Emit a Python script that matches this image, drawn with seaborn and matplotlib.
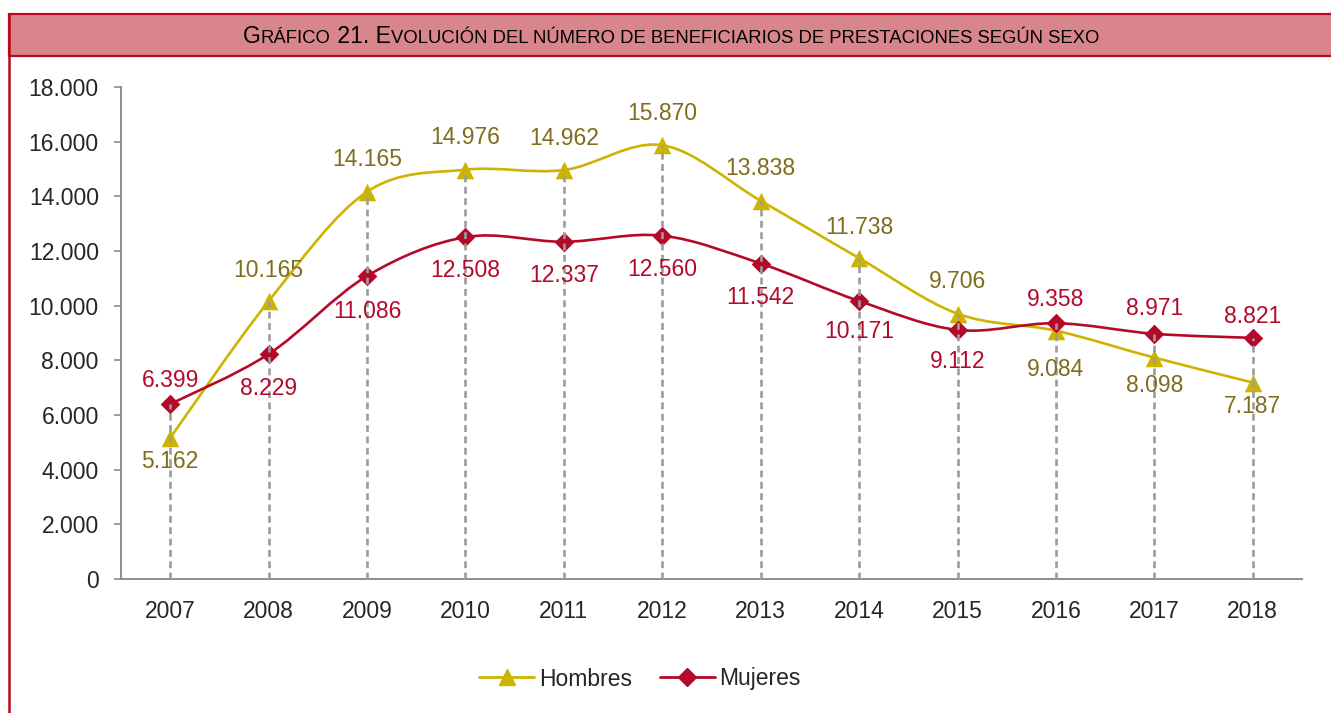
import matplotlib
matplotlib.use("Agg")
import matplotlib.pyplot as plt
from matplotlib.path import Path
from matplotlib.patches import PathPatch, Rectangle
from matplotlib.lines import Line2D
import numpy as np
import pandas as pd
import seaborn as sns

# datos
anios = ["2007", "2008", "2009", "2010", "2011", "2012",
         "2013", "2014", "2015", "2016", "2017", "2018"]
hombres = [5162, 10165, 14165, 14976, 14962, 15870, 13838, 11738, 9706, 9084, 8098, 7187]
mujeres = [6399, 8229, 11086, 12508, 12337, 12560, 11542, 10171, 9112, 9358, 8971, 8821]
y_ticks = [0, 2000, 4000, 6000, 8000, 10000, 12000, 14000, 16000, 18000]
y_tick_labels = ["0", "2.000", "4.000", "6.000", "8.000", "10.000",
                 "12.000", "14.000", "16.000", "18.000"]

# desplazamiento vertical de las etiquetas (px, + arriba / - abajo)
off_h = [-24, 31, 32, 32, 32, 32, 32, 31, 32, -39, -28, -24]
off_m = [24, -34, -36, -33, -34, -34, -34, -31, -32, 24, 25, 21]

col_h = "#CCB400"
col_h_txt = "#7F6C1C"
col_m = "#B5092A"
col_borde = "#B7091E"
col_cab = "#D9858C"

df = pd.DataFrame({"pos": np.arange(len(anios)), "anio": anios,
                   "Hombres": hombres, "Mujeres": mujeres})

sns.set_style("white")
plt.rcParams["font.family"] = ["Liberation Sans", "DejaVu Sans"]

W, H = 1331, 713
fig = plt.figure(figsize=(W / 100, H / 100), dpi=100)
ax = fig.add_axes([121 / W, (H - 579) / H, (1302 - 121) / W, (579 - 87) / H])


def curva(xs, ys, t=1 / 6):
    # curva suavizada tipo Excel (Bezier cubica)
    n = len(xs)
    verts = [(xs[0], ys[0])]
    codes = [Path.MOVETO]
    for i in range(n - 1):
        a = max(i - 1, 0)
        b = min(i + 2, n - 1)
        c1 = (xs[i] + (xs[i + 1] - xs[a]) * t, ys[i] + (ys[i + 1] - ys[a]) * t)
        c2 = (xs[i + 1] - (xs[b] - xs[i]) * t, ys[i + 1] - (ys[b] - ys[i]) * t)
        verts += [c1, c2, (xs[i + 1], ys[i + 1])]
        codes += [Path.CURVE4] * 3
    return Path(verts, codes)


for serie, col in [("Hombres", col_h), ("Mujeres", col_m)]:
    p = curva(df["pos"].values.astype(float), df[serie].values.astype(float))
    ax.add_patch(PathPatch(p, facecolor="none", edgecolor=col, lw=1.9, zorder=2))

sns.scatterplot(data=df, x="pos", y="Hombres", marker="^", s=160, color=col_h,
                linewidth=0, ax=ax, zorder=3)
sns.scatterplot(data=df, x="pos", y="Mujeres", marker="D", s=100, color=col_m,
                linewidth=0, ax=ax, zorder=3)

# lineas de proyeccion
ax.vlines(df["pos"], 0, np.maximum(df["Hombres"], df["Mujeres"]), colors="#9C9C9C",
          linestyles=(0, (2.6, 1.7)), lw=1.9, zorder=4)

fmt = lambda v: f"{v:,}".replace(",", ".")
for i in range(len(anios)):
    ax.annotate(fmt(hombres[i]), (i, hombres[i]), xytext=(0, off_h[i] * 0.72),
                textcoords="offset points", ha="center", va="center",
                fontsize=16.5, color=col_h_txt, zorder=5)
    ax.annotate(fmt(mujeres[i]), (i, mujeres[i]), xytext=(0, off_m[i] * 0.72),
                textcoords="offset points", ha="center", va="center",
                fontsize=16.5, color=col_m, zorder=5)

ax.set_xlim(-0.5, len(anios) - 0.5)
ax.set_ylim(0, 18000)
ax.set_xticks(df["pos"])
ax.set_xticklabels(anios, fontsize=16.5)
ax.set_yticks(y_ticks)
ax.set_yticklabels(y_tick_labels, fontsize=16.5)
ax.tick_params(axis="x", length=0, pad=15)
ax.tick_params(axis="y", length=5, width=1.2, color="#8C8C8C", pad=11, left=True)
ax.set_xlabel("")
ax.set_ylabel("")
for s in ["top", "right"]:
    ax.spines[s].set_visible(False)
for s in ["left", "bottom"]:
    ax.spines[s].set_color("#8C8C8C")
    ax.spines[s].set_linewidth(1.4)

handles = [Line2D([0], [0], color=col_h, lw=2, marker="^", markersize=12),
           Line2D([0], [0], color=col_m, lw=2, marker="D", markersize=9.5)]
fig.legend(handles, ["Hombres", "Mujeres"], loc="center", bbox_to_anchor=(640 / W, 1 - 679 / H),
           ncol=2, frameon=False, fontsize=16.5, handlelength=2.4, handletextpad=0.2,
           columnspacing=1.2)

# cabecera y borde
fig.patches.append(Rectangle((9 / W, 1 - 56 / H), 1.2, 42 / H, transform=fig.transFigure,
                             facecolor=col_cab, edgecolor=col_borde, lw=1.6, zorder=0))
fig.lines.append(Line2D([9 / W, 9 / W], [0, 1 - 14 / H], transform=fig.transFigure,
                        color=col_borde, lw=1.8))

# titulo en versalitas
piezas = [("G", 16.6), ("RÁFICO", 13.3), (" 21. E", 16.6),
          ("VOLUCIÓN DEL NÚMERO DE BENEFICIARIOS DE PRESTACIONES SEGÚN SEXO", 13.3)]
textos = [fig.text(0, 1 - 43 / H, s, fontsize=f, va="baseline", ha="left", color="black")
          for s, f in piezas]
fig.canvas.draw()
r = fig.canvas.get_renderer()
anchos = [t.get_window_extent(r).width for t in textos]
x = 671 - sum(anchos) / 2
for t, w in zip(textos, anchos):
    t.set_x(x / W)
    x += w

fig.savefig("out.png", dpi=100)
